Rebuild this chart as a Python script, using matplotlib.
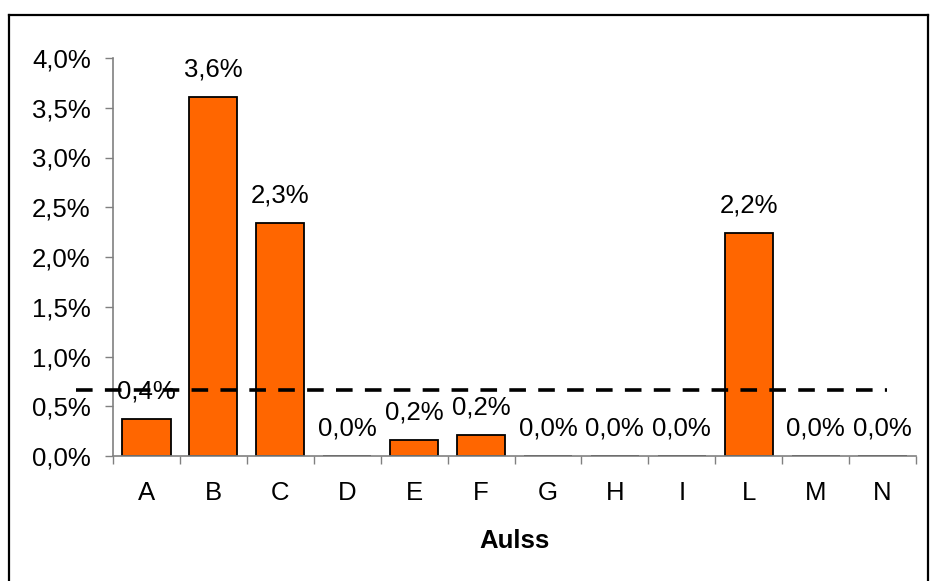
import matplotlib
matplotlib.use("Agg")
import matplotlib.pyplot as plt
from matplotlib.lines import Line2D
from matplotlib.ticker import FuncFormatter, FixedLocator
import numpy as np

# dati: quota percentuale per Aulss
categorie = ["A", "B", "C", "D", "E", "F", "G", "H", "I", "L", "M", "N"]
valori = [0.37, 3.61, 2.34, 0.0, 0.16, 0.21, 0.0, 0.0, 0.0, 2.24, 0.0, 0.0]  # in %
media = 0.667  # linea di riferimento, in %

plt.rcParams["font.family"] = ["Liberation Sans", "DejaVu Sans"]
plt.rcParams["font.size"] = 18.5

fig = plt.figure(figsize=(9.3, 5.81), dpi=100)
ax = fig.add_axes([113 / 930, 1 - 456 / 581, (916 - 113) / 930, (456 - 58) / 581])

x = np.arange(len(categorie))
ax.bar(x, valori, width=0.72, color="#FF6600", edgecolor="black", linewidth=1.3, zorder=2)

def fmt_pct(v):
    return f"{v:.1f}%".replace(".", ",")

for xi, v in zip(x, valori):
    ax.annotate(fmt_pct(v), (xi, v), xytext=(0, 11), textcoords="offset points",
                ha="center", va="bottom", fontsize=18.5, zorder=4)

# linea tratteggiata del valore medio
ax.plot([-1.05, 11.07], [media, media], color="black", lw=2.6,
        linestyle=(0, (4.6, 3.4)), clip_on=False, zorder=3)

ax.set_xlim(-0.5, len(categorie) - 0.5)
ax.set_ylim(0, 4.0)
ax.set_yticks(np.arange(0, 4.01, 0.5))
ax.yaxis.set_major_formatter(FuncFormatter(lambda v, p: fmt_pct(v)))

ax.set_xticks(x)
ax.set_xticklabels(categorie)
ax.xaxis.set_minor_locator(FixedLocator(np.arange(-0.5, len(categorie), 1.0)))
ax.tick_params(axis="x", which="major", length=0, pad=18)
ax.tick_params(axis="x", which="minor", length=6, width=1, color="#808080", direction="out")
ax.tick_params(axis="y", length=6, width=1, color="#808080", pad=10)

for s in ["top", "right"]:
    ax.spines[s].set_visible(False)
for s in ["left", "bottom"]:
    ax.spines[s].set_color("#808080")
    ax.spines[s].set_linewidth(1.2)

ax.set_xlabel("Aulss", fontweight="bold", fontsize=18.5, labelpad=17)

# cornice esterna del grafico
W, H = 930, 581
for xs, ys in [([9, 9], [H, 15]), ([9, 928], [15, 15]), ([928, 928], [15, H])]:
    fig.add_artist(Line2D([v / W for v in xs], [1 - v / H for v in ys],
                          color="black", lw=1.6, transform=fig.transFigure))

fig.savefig("out.png", dpi=100)
